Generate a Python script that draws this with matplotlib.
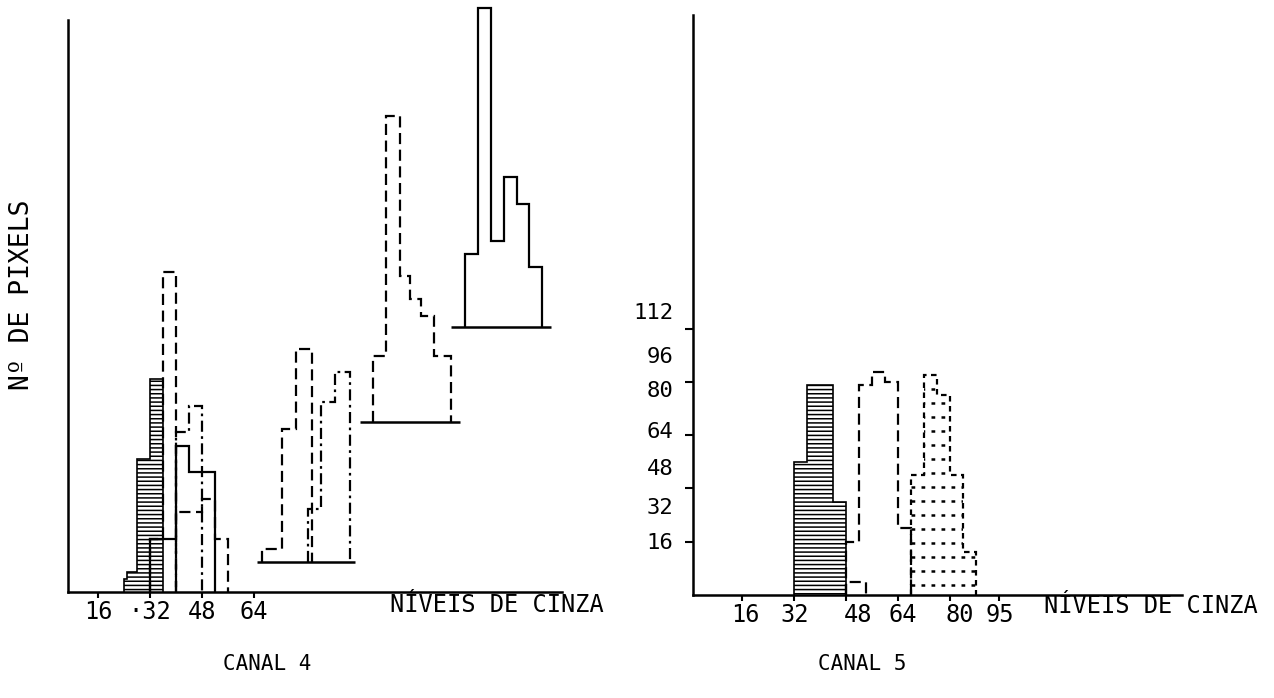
import numpy as np
import matplotlib.pyplot as plt

plt.rcParams['font.family'] = ['DejaVu Sans Mono', 'DejaVu Sans']
plt.rcParams['hatch.linewidth'] = 1.1

# ---- CANAL 4 : histogramas (niveis de cinza x no. de pixels) ----
# grupo 1, na linha de base
c4_hatch_edges = [24, 25, 28, 32, 36]
c4_hatch_counts = [4, 6, 40, 64]
c4_dash_edges = [32, 36, 40]
c4_dash_counts = [16, 96]
c4_solid_edges = [32, 40, 44, 52]
c4_solid_counts = [16, 44, 36]
c4_dashdot_edges = [40, 44, 48]
c4_dashdot_counts = [48, 56]
c4_dash2_edges = [40, 44, 48, 52, 56]
c4_dash2_counts = [24, 24, 28, 16]

# grupos deslocados (perspectiva)
c4_g2_base = 9
c4_g2_span = [65, 95]
c4_g2_dash_edges = [66.5, 72.5, 77, 82]
c4_g2_dash_counts = [4, 40, 64]
c4_g2_dashdot_edges = [80.5, 84.5, 89, 93.5]
c4_g2_dashdot_counts = [16, 48, 57]

c4_g3_base = 51
c4_g3_span = [96.5, 127.5]
c4_g3_edges = [100.5, 104.5, 109, 112, 115.5, 119.5, 124.5]
c4_g3_counts = [20, 92, 44, 37, 32, 20]

c4_g4_base = 79.5
c4_g4_span = [124.5, 155.5]
c4_g4_edges = [129, 133, 137, 141, 145, 148.5, 152.5]
c4_g4_counts = [22, 96, 26, 45, 37, 18]

c4_xticks = [16, 32, 48, 64]
c4_xticklabels = ['16', '·32', '48', '64']

# ---- CANAL 5 ----
c5_hatch_edges = [32, 36, 44, 48]
c5_hatch_counts = [40, 63, 28]
c5_dash_edges = [48, 52, 56, 60, 64, 68]
c5_dash_counts = [16, 63, 67, 64, 20]
c5_dashlow_edges = [48, 54]
c5_dashlow_counts = [4]
c5_dot_edges = [68, 72, 76, 80, 84, 88]
c5_dot_counts = [36, 66, 60, 36, 13]

c5_xticks = [16, 32, 48, 64, 80, 95]
c5_xlabels = ['16', '32', '48', '64', '80', '95']
c5_xlabel_pos = [16.9, 32.3, 51.7, 65.5, 83.1, 95.4]
c5_yticks = [16, 32, 48, 64, 80]
c5_ylabels = ['16', '32', '48', '64', '80', '96', '112']
c5_ylabel_pos = [16.2, 26.7, 38.4, 49.5, 61.9, 72.1, 85.3]

W, H = 1274, 698
fig = plt.figure(figsize=(W / 100, H / 100), dpi=100)

def px_axes(x0, x1, ytop, ybot):
    return fig.add_axes([x0 / W, 1 - ybot / H, (x1 - x0) / W, (ybot - ytop) / H])

ax1 = px_axes(68, 562, 20, 592)
ax2 = px_axes(693, 1182, 15, 595)

dashed = (0, (5, 2.5))
dashdot = (0, (5, 2, 1.2, 2))
dotted = (0, (1.5, 2.5))
lw = 1.6

for ax in (ax1, ax2):
    for s in ('top', 'right'):
        ax.spines[s].set_visible(False)
    for s in ('left', 'bottom'):
        ax.spines[s].set_linewidth(1.8)

# canal 4
ax1.set_xlim(6.8, 158.8)
ax1.set_ylim(0, 171.8)

ax1.stairs(c4_hatch_counts, c4_hatch_edges, fill=True, facecolor='white',
           edgecolor='black', hatch='----', lw=0)
ax1.stairs(c4_hatch_counts, c4_hatch_edges, color='black', lw=1.2)
ax1.stairs(c4_dash_counts, c4_dash_edges, color='black', lw=lw, ls=dashed)
ax1.stairs(c4_solid_counts, c4_solid_edges, color='black', lw=lw)
ax1.stairs(c4_dashdot_counts, c4_dashdot_edges, color='black', lw=lw, ls=dashdot)
ax1.stairs(c4_dash2_counts, c4_dash2_edges, color='black', lw=lw, ls=dashed)

for base, span in [(c4_g2_base, c4_g2_span), (c4_g3_base, c4_g3_span),
                   (c4_g4_base, c4_g4_span)]:
    ax1.hlines(base, span[0], span[1], color='black', lw=1.8)

b = c4_g2_base
ax1.stairs(np.add(c4_g2_dash_counts, b), c4_g2_dash_edges, baseline=b,
           color='black', lw=lw, ls=dashed)
ax1.stairs(np.add(c4_g2_dashdot_counts, b), c4_g2_dashdot_edges, baseline=b,
           color='black', lw=lw, ls=dashdot)
b = c4_g3_base
ax1.stairs(np.add(c4_g3_counts, b), c4_g3_edges, baseline=b,
           color='black', lw=lw, ls=dashed)
b = c4_g4_base
ax1.stairs(np.add(c4_g4_counts, b), c4_g4_edges, baseline=b,
           color='black', lw=lw, clip_on=False)

ax1.set_yticks([])
ax1.set_xticks(c4_xticks, c4_xticklabels)
ax1.tick_params(axis='x', direction='out', length=4, width=1.5,
                labelsize=17, pad=2)

# canal 5
ax2.set_xlim(0.9, 151.4)
ax2.set_ylim(0, 174.2)

ax2.stairs(c5_hatch_counts, c5_hatch_edges, fill=True, facecolor='white',
           edgecolor='black', hatch='----', lw=0)
ax2.stairs(c5_hatch_counts, c5_hatch_edges, color='black', lw=1.2)
ax2.stairs(c5_dash_counts, c5_dash_edges, color='black', lw=lw, ls=dashed)
ax2.stairs(c5_dashlow_counts, c5_dashlow_edges, color='black', lw=lw, ls=dashed)

dot_patch = ax2.stairs(c5_dot_counts, c5_dot_edges, fill=True,
                       facecolor='none', edgecolor='none')
rows = ax2.hlines(np.arange(3, max(c5_dot_counts), 4.2), c5_dot_edges[0],
                  c5_dot_edges[-1], color='black', lw=1.8, ls=dotted)
rows.set_clip_path(dot_patch)
ax2.stairs(c5_dot_counts, c5_dot_edges, color='black', lw=lw, ls=(0, (2.5, 2)))

ax2.xaxis.remove_overlapping_locs = False
ax2.yaxis.remove_overlapping_locs = False
ax2.set_xticks(c5_xlabel_pos, c5_xlabels)
ax2.tick_params(axis='x', length=0, labelsize=17, pad=6)
ax2.set_xticks(c5_xticks, minor=True)
ax2.tick_params(axis='x', which='minor', direction='out', length=4, width=1.5)
ax2.set_yticks(c5_ylabel_pos, c5_ylabels)
ax2.tick_params(axis='y', length=0, labelsize=16, pad=14)
ax2.set_yticks(c5_yticks, minor=True)
ax2.tick_params(axis='y', which='minor', direction='out', length=6, width=1.5)

# textos
def ftext(x, y, s, **kw):
    fig.text(x / W, 1 - y / H, s, ha='center', va='center', **kw)

ftext(22, 295, 'Nº DE PIXELS', rotation=90, fontsize=19)
ftext(497, 605, 'NÍVEIS DE CINZA', fontsize=17)
ftext(1151, 606, 'NÍVEIS DE CINZA', fontsize=17)
ftext(267, 664, 'CANAL 4', fontsize=15)
ftext(862, 664, 'CANAL 5', fontsize=15)

fig.savefig('out.png', dpi=100, facecolor='white')
